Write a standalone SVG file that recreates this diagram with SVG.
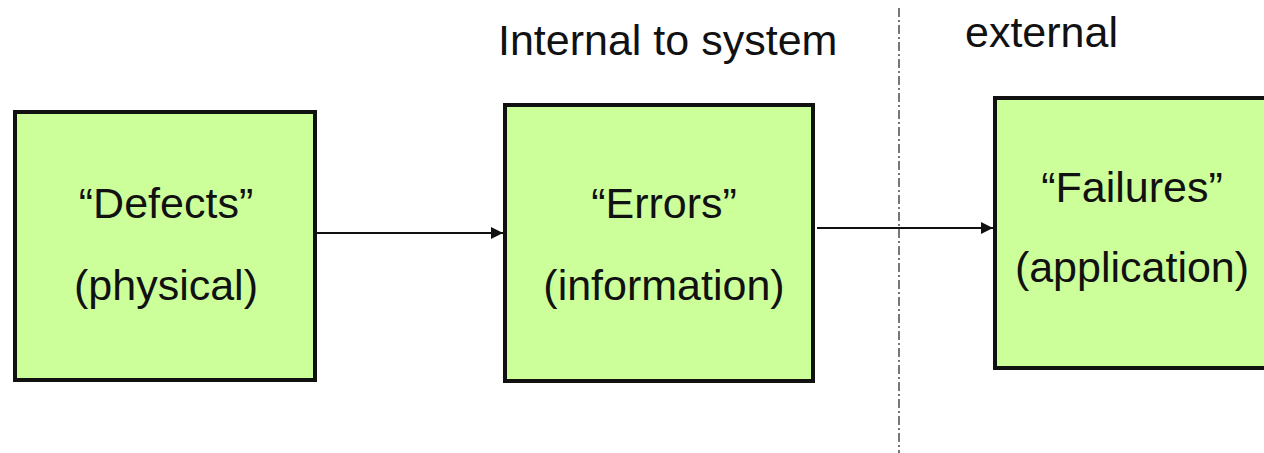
<svg xmlns="http://www.w3.org/2000/svg" width="1264" height="453" viewBox="0 0 1264 453">
  <style>
    .box { fill: #ccff99; stroke: #111; stroke-width: 4; }
    .lbl { font-family: "Liberation Sans", Arial, sans-serif; font-size: 43px; fill: #111; text-anchor: middle; }
    .hdr { font-family: "Liberation Sans", Arial, sans-serif; font-size: 43px; fill: #111; }
    .conn { stroke: #111; stroke-width: 2; fill: none; marker-end: url(#arrow); }
    .divider { stroke: #777; stroke-width: 2; stroke-dasharray: 9 3 2 3; }
  </style>
  <defs>
    <marker id="arrow" markerWidth="14" markerHeight="14" refX="12" refY="6" orient="auto" markerUnits="userSpaceOnUse">
      <path d="M0,0 L12,6 L0,12 Z" fill="#111"/>
    </marker>
  </defs>
  <rect width="1264" height="453" fill="#fff"/>

  <!-- boundary between internal and external -->
  <line class="divider" x1="899" y1="8" x2="899" y2="453"/>
  <text class="hdr" x="498" y="55">Internal to system</text>
  <text class="hdr" x="965" y="47">external</text>

  <g id="connectors">
    <line class="conn" x1="317" y1="233" x2="503" y2="233"/>
    <line class="conn" x1="817" y1="228" x2="993" y2="228"/>
  </g>

  <g id="defects">
    <rect class="box" x="15" y="112" width="300" height="268"/>
    <text class="lbl" x="166" y="218">“Defects”</text>
    <text class="lbl" x="166" y="300">(physical)</text>
  </g>

  <g id="errors">
    <rect class="box" x="505" y="105" width="308" height="276"/>
    <text class="lbl" x="664" y="218">“Errors”</text>
    <text class="lbl" x="664" y="300">(information)</text>
  </g>

  <g id="failures">
    <rect class="box" x="995" y="98" width="290" height="270"/>
    <text class="lbl" x="1132" y="202">“Failures”</text>
    <text class="lbl" x="1132" y="282">(application)</text>
  </g>
</svg>
